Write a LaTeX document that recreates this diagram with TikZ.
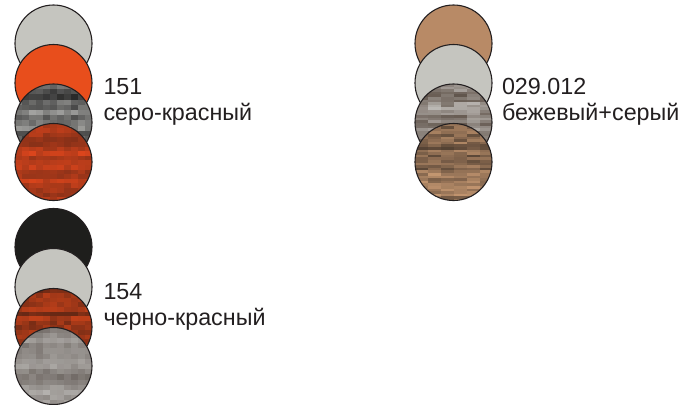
\documentclass[tikz,border=0pt]{standalone}
\usepackage{fontspec}
\setmainfont{Liberation Sans}
\definecolor{lgray}{HTML}{C5C5BF}
\definecolor{orng}{HTML}{E84E1C}
\definecolor{tanc}{HTML}{B88A66}
\definecolor{blk}{HTML}{1E1E1C}
\definecolor{txt}{HTML}{231F20}
\definecolor{ga}{HTML}{C2C2BF}\definecolor{gb}{HTML}{1E1E1E}\definecolor{gc}{HTML}{8E8E8C}
\definecolor{ra}{HTML}{E8481C}\definecolor{rb}{HTML}{5E2616}\definecolor{rc}{HTML}{B23C1C}
\definecolor{wa}{HTML}{CBC9C6}\definecolor{wb}{HTML}{5E5249}\definecolor{wc}{HTML}{8A7E76}
\definecolor{ta}{HTML}{C39670}\definecolor{tb}{HTML}{4A3A2E}\definecolor{tc}{HTML}{8A6A50}
\definecolor{oa}{HTML}{EA4C1C}\definecolor{ob}{HTML}{1E1410}\definecolor{oc}{HTML}{B03A1A}
\definecolor{sa}{HTML}{BDBBB8}\definecolor{sb}{HTML}{5E5651}\definecolor{sc}{HTML}{A6A29E}
\newcommand\grain[9]{% colA colB colC cellw cellh ncols nrows noise exponent
  \gdef\prevrow{0.5}%
  \foreach \j in {0,...,#7}{%
    \pgfmathsetmacro\rowv{0.45*\prevrow+0.55*rnd}%
    \global\let\prevrow\rowv
    \foreach \i in {0,...,#6}{%
      \pgfmathtruncatemacro\ta{max(0,min(100,100*(\rowv^#9)+#8*(rnd-0.5)))}%
      \pgfmathtruncatemacro\ub{70+30*rnd}%
      \fill[#1!\ta!#2!\ub!#3] ([xshift={\i*#4bp}, yshift={-\j*#5bp}]path picture bounding box.north west) rectangle ++(#4+0.4,#5+0.4);
    }%
  }%
}
\tikzset{
  disc/.style={circle, draw=txt, line width=1.1bp, minimum size=77bp, inner sep=0pt, outer sep=0pt},
  lbl/.style={anchor=base west, inner sep=0pt, outer sep=0pt, font=\fontsize{23.3bp}{26bp}\selectfont, text=txt}
}
\begin{document}
\begin{tikzpicture}[x=1bp, y=-1bp]
\pgfmathsetseed{11}
\useasboundingbox (0,0) rectangle (690,404);
% group 1
\node[disc, fill=lgray] (a1) at (53.5,43.5) {};
\node[disc, fill=orng] (a2) at (53.5,83) {};
\node[disc, path picture={\grain{ga}{gb}{gc}{7}{5.2}{11}{15}{30}{1.5}}] (a3) at (53.5,122.5) {};
\node[disc, path picture={\grain{ra}{rb}{rc}{7}{4.6}{11}{17}{30}{0.8}}] (a4) at (53.5,162) {};
\node[lbl] (a5) at (103.5,94) {151};
\node[lbl] (a6) at (103.5,120) {серо-красный};
% group 2
\node[disc, fill=tanc] (b1) at (453.5,43.5) {};
\node[disc, fill=lgray] (b2) at (453.5,83) {};
\node[disc, path picture={\grain{wa}{wb}{wc}{13}{2.6}{5}{29}{60}{1}}] (b3) at (453.5,122.5) {};
\node[disc, path picture={\grain{ta}{tb}{tc}{13}{2.6}{5}{29}{60}{0.8}}] (b4) at (453.5,162) {};
\node[lbl] (b5) at (502,94) {029.012};
\node[lbl] (b6) at (502,120) {бежевый+серый};
% group 3
\node[disc, fill=blk] (c1) at (53.5,247) {};
\node[disc, fill=lgray] (c2) at (53.5,287) {};
\node[disc, path picture={\grain{oa}{ob}{oc}{7}{4.6}{11}{17}{30}{0.9}}] (c3) at (53.5,327) {};
\node[disc, path picture={\grain{sa}{sb}{sc}{7}{5.2}{11}{15}{30}{0.9}}] (c4) at (53.5,366) {};
\node[lbl] (c5) at (103.5,299) {154};
\node[lbl] (c6) at (103.5,325) {черно-красный};
\end{tikzpicture}
\end{document}
